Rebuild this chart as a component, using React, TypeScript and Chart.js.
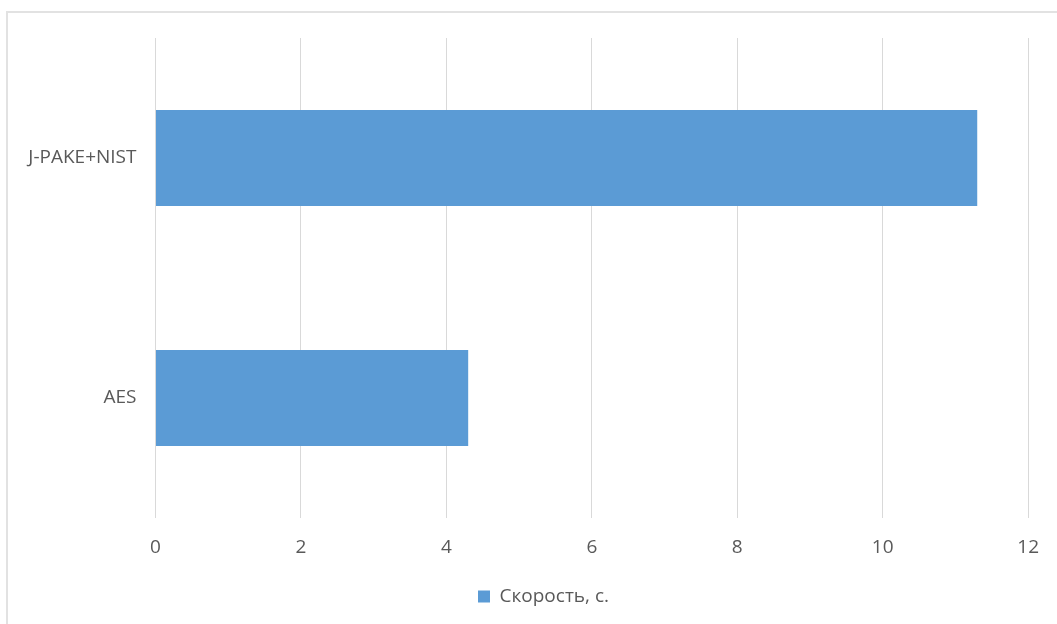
import React, { useEffect, useRef } from "react";
import { Chart, registerables } from "chart.js";

Chart.register(...registerables);

const categories: string[] = ["J-PAKE+NIST", "AES"];
const seriesName = "Скорость, с.";
const seriesValues: number[] = [11.3, 4.3];
const xTicks: number[] = [0, 2, 4, 6, 8, 10, 12];

const FONT = "'Open Sans', 'Noto Sans', sans-serif";
const TEXT = "#595959";
const GRID = "#d9d9d9";
const BAR = "#5B9BD5";

const legendShift = {
  id: "legendShift",
  afterLayout(chart: any) {
    const lg = chart.legend;
    if (lg) {
      lg.left += 26;
      lg.right += 26;
    }
  },
};

export default function App() {
  const ref = useRef<HTMLCanvasElement | null>(null);

  useEffect(() => {
    if (!ref.current) return;
    const chart = new Chart(ref.current, {
      type: "bar",
      data: {
        labels: categories,
        datasets: [
          {
            label: seriesName,
            data: seriesValues,
            backgroundColor: BAR,
            borderWidth: 0,
            barPercentage: 0.4,
            categoryPercentage: 1.0,
          },
        ],
      },
      plugins: [legendShift],
      options: {
        indexAxis: "y",
        animation: false,
        responsive: false,
        maintainAspectRatio: false,
        layout: { padding: { left: 0, right: 22, top: 38, bottom: 8 } },
        plugins: {
          tooltip: { enabled: false },
          legend: {
            position: "bottom",
            labels: {
              boxWidth: 12,
              boxHeight: 12,
              color: TEXT,
              font: { family: FONT, size: 19 },
              padding: 7,
            },
          },
        },
        scales: {
          x: {
            min: 0,
            max: 12,
            afterBuildTicks: (scale: any) => {
              scale.ticks = xTicks.map((v) => ({ value: v }));
            },
            afterFit: (scale: any) => {
              scale.height = 62;
            },
            grid: { color: GRID, lineWidth: 1, drawTicks: false },
            border: { display: false },
            ticks: {
              color: TEXT,
              font: { family: FONT, size: 19 },
              padding: 18,
            },
          },
          y: {
            afterFit: (scale: any) => {
              scale.width = 155.5;
            },
            grid: { display: false, drawTicks: false },
            border: { display: false },
            ticks: {
              color: TEXT,
              font: { family: FONT, size: 19 },
              padding: 19,
            },
          },
        },
      },
    });
    return () => chart.destroy();
  }, []);

  return (
    <div style={{ position: "fixed", left: 0, top: 0, width: 1057, height: 624, background: "#fff", overflow: "hidden" }}>
      <div
        style={{
          position: "absolute",
          left: 6,
          top: 11,
          width: 1100,
          height: 700,
          border: "2px solid #e2e2e2",
          boxSizing: "border-box",
        }}
      />
      <canvas ref={ref} width={1057} height={624} style={{ position: "absolute", left: 0, top: 0 }} />
    </div>
  );
}
